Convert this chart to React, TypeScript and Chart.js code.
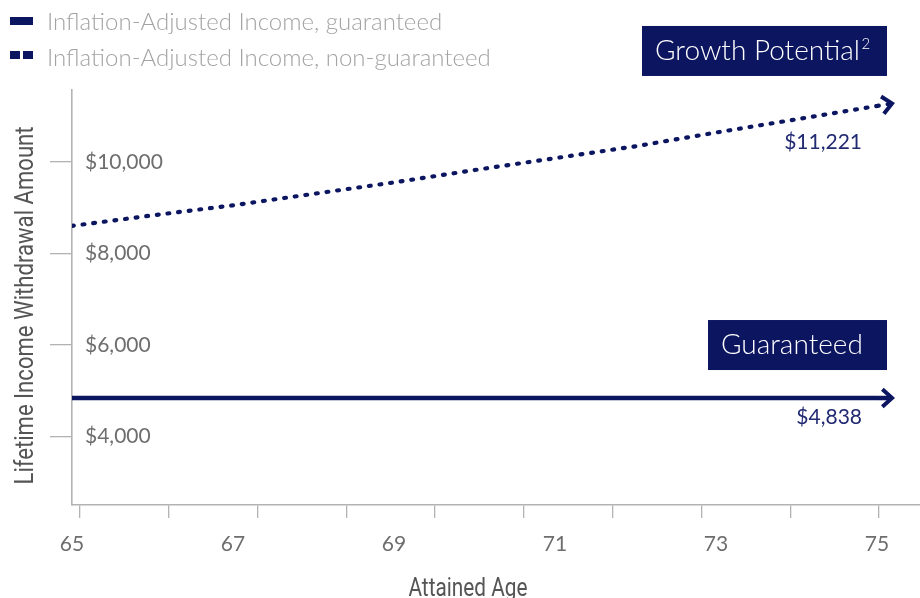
import React, { useEffect, useRef } from "react";
import { Chart, registerables } from "chart.js";

Chart.register(...registerables);

// ---------- data ----------
const ages = [65, 66, 67, 68, 69, 70, 71, 72, 73, 74, 75];
const guaranteedIncome = [4838, 4838, 4838, 4838, 4838, 4838, 4838, 4838, 4838, 4838, 4838];
const growthIncome = [8600, 8830, 9050, 9300, 9550, 9820, 10080, 10340, 10640, 10930, 11221];
const ageTickLabels = [65, 67, 69, 71, 73, 75];
const incomeTicks = [4000, 6000, 8000, 10000];
const axisTickMarks = [0, 1, 2, 3, 4, 5, 6, 7, 8, 9];
const legendLabels = [
  "Inflation-Adjusted Income, guaranteed",
  "Inflation-Adjusted Income, non-guaranteed",
];
const seriesTags = ["Guaranteed", "Growth Potential\u00B2"];
const yAxisTitle = "Lifetime Income Withdrawal Amount";
const xAxisTitle = "Attained Age";

// ---------- styles ----------
const NAVY = "#0c1560";
const AXIS_GREY = "#b3b3b3";
const LABEL_GREY = "#6e6e6e";
const TITLE_GREY = "#555555";
const LEGEND_GREY = "#a3a3a3";
const TITLE_FONT = "26px Roboto, 'Noto Sans', sans-serif";
const X_TITLE_SQUEEZE = 0.8;
const Y_TITLE_SQUEEZE = 0.85;

const fmtMoney = (v: number) => "$" + Math.round(v).toLocaleString("en-US");

const decorPlugin = {
  id: "lineDecor",
  afterDatasetsDraw(chart: any) {
    const ctx: CanvasRenderingContext2D = chart.ctx;
    chart.data.datasets.forEach((ds: any, i: number) => {
      const meta = chart.getDatasetMeta(i);
      const pts = meta.data;
      if (!pts || pts.length < 2) return;
      const last = pts[pts.length - 1];
      const prev = pts[pts.length - 2];
      const ang = Math.atan2(last.y - prev.y, last.x - prev.x);
      const ext = ds.arrowExtension;
      const tipX = last.x + ext;
      const tipY = last.y + ext * Math.tan(ang);

      ctx.save();
      ctx.strokeStyle = ds.borderColor;
      ctx.lineWidth = ds.borderWidth;
      ctx.lineCap = ds.borderCapStyle || "butt";
      ctx.setLineDash(ds.borderDash || []);
      ctx.beginPath();
      ctx.moveTo(last.x, last.y);
      ctx.lineTo(tipX - 3 * Math.cos(ang), tipY - 3 * Math.sin(ang));
      ctx.stroke();

      ctx.setLineDash([]);
      ctx.lineCap = "butt";
      ctx.lineJoin = "miter";
      ctx.lineWidth = 4;
      const arm = 13;
      const spread = (42 * Math.PI) / 180;
      ctx.beginPath();
      ctx.moveTo(tipX - arm * Math.cos(ang - spread), tipY - arm * Math.sin(ang - spread));
      ctx.lineTo(tipX, tipY);
      ctx.lineTo(tipX - arm * Math.cos(ang + spread), tipY - arm * Math.sin(ang + spread));
      ctx.stroke();

      const endValue = ds.data[ds.data.length - 1].y;
      ctx.font = "21px Lato";
      ctx.fillStyle = "#222a72";
      ctx.textAlign = "right";
      ctx.textBaseline = "middle";
      ctx.fillText(fmtMoney(endValue), last.x - 15, last.y + ds.valueLabelOffset);

      const w = ds.tagWidth;
      const h = 50;
      const right = last.x + 10;
      const bottom = last.y - ds.tagGap;
      ctx.fillStyle = NAVY;
      ctx.fillRect(right - w, bottom - h, w, h);
      ctx.fillStyle = "#ffffff";
      const tag: string = ds.tag;
      const hasSup = tag.endsWith("\u00B2");
      const main = hasSup ? tag.slice(0, -1) : tag;
      ctx.font = "300 28px Lato";
      ctx.textAlign = "left";
      ctx.textBaseline = "middle";
      const tx = right - w + 13;
      const cy = bottom - h / 2;
      ctx.fillText(main, tx, cy);
      if (hasSup) {
        const mw = ctx.measureText(main).width;
        ctx.font = "300 15px Lato";
        ctx.textBaseline = "alphabetic";
        ctx.fillText("2", tx + mw + 1.5, cy - 1.5);
      }
      ctx.restore();
    });
  },
};

// axis titles drawn in a condensed cut (horizontally squeezed text)
const condensedTitlePlugin = {
  id: "condensedTitles",
  afterDraw(chart: any) {
    const ctx: CanvasRenderingContext2D = chart.ctx;
    const area = chart.chartArea;
    const xs = chart.scales.x;
    const ys = chart.scales.y;
    ctx.save();
    ctx.font = TITLE_FONT;
    ctx.fillStyle = TITLE_GREY;
    ctx.textAlign = "center";
    ctx.textBaseline = "alphabetic";

    ctx.save();
    ctx.translate((area.left + area.right) / 2 - 28, xs.bottom - 2);
    ctx.scale(X_TITLE_SQUEEZE, 1);
    ctx.fillText(chart.options.scales.x.title.text, 0, 0);
    ctx.restore();

    ctx.save();
    ctx.translate(ys.left + 33, (area.top + area.bottom) / 2 + 8);
    ctx.rotate(-Math.PI / 2);
    ctx.scale(Y_TITLE_SQUEEZE, 1);
    ctx.fillText(chart.options.scales.y.title.text, 0, 0);
    ctx.restore();

    ctx.restore();
  },
};

export default function App() {
  const canvasRef = useRef<HTMLCanvasElement | null>(null);

  useEffect(() => {
    document.body.style.margin = "0";
    document.body.style.overflow = "hidden";
    const canvas = canvasRef.current;
    if (!canvas) return;
    Chart.defaults.font.family = "Lato";

    const chart = new Chart(canvas, {
      type: "line",
      data: {
        datasets: [
          {
            label: legendLabels[0],
            data: ages.map((a, i) => ({ x: a, y: guaranteedIncome[i] })),
            borderColor: NAVY,
            borderWidth: 4.5,
            pointRadius: 0,
            tension: 0,
            xAxisID: "x",
            yAxisID: "y",
            arrowExtension: 15,
            valueLabelOffset: 19,
            tag: seriesTags[0],
            tagWidth: 179,
            tagGap: 28,
          } as any,
          {
            label: legendLabels[1],
            data: ages.map((a, i) => ({ x: a, y: growthIncome[i] })),
            borderColor: NAVY,
            borderWidth: 4.2,
            borderDash: [1.8, 8.9],
            borderCapStyle: "round",
            pointRadius: 0,
            tension: 0,
            xAxisID: "x",
            yAxisID: "y",
            arrowExtension: 15,
            valueLabelOffset: 36,
            tag: seriesTags[1],
            tagWidth: 245,
            tagGap: 30,
          } as any,
        ],
      },
      options: {
        animation: false,
        responsive: true,
        maintainAspectRatio: false,
        layout: { padding: { top: 90, left: 0, right: 0, bottom: 0 } },
        plugins: { legend: { display: false }, tooltip: { enabled: false } },
        scales: {
          xt: {
            type: "linear",
            position: "bottom",
            weight: 0,
            min: -0.09,
            max: 9.462,
            afterBuildTicks: (axis: any) => {
              axis.ticks = axisTickMarks.map((v) => ({ value: v }));
            },
            afterFit: (axis: any) => {
              axis.height = 13;
            },
            ticks: { display: false },
            grid: {
              display: true,
              drawOnChartArea: false,
              drawTicks: true,
              tickLength: 13,
              color: AXIS_GREY,
              lineWidth: 1.3,
            },
            border: { display: true, color: AXIS_GREY, width: 1.6 },
          },
          x: {
            type: "linear",
            position: "bottom",
            weight: 1,
            min: 65,
            max: 75.534,
            afterBuildTicks: (axis: any) => {
              axis.ticks = ageTickLabels.map((v) => ({ value: v }));
            },
            afterFit: (axis: any) => {
              axis.height = 80;
            },
            ticks: {
              autoSkip: false,
              maxRotation: 0,
              padding: 14,
              color: LABEL_GREY,
              font: { family: "Lato", size: 21 },
              callback: (v: any) => String(v),
            },
            grid: { display: false, drawTicks: false },
            border: { display: false },
            title: { display: false, text: xAxisTitle },
          },
          y: {
            type: "linear",
            position: "left",
            min: 2500,
            max: 11570,
            afterBuildTicks: (axis: any) => {
              axis.ticks = incomeTicks.map((v) => ({ value: v }));
            },
            afterFit: (axis: any) => {
              axis.width = 72;
            },
            ticks: {
              mirror: true,
              padding: 13,
              color: LABEL_GREY,
              font: { family: "Lato", size: 21 },
              callback: (v: any) => fmtMoney(Number(v)),
            },
            grid: {
              display: true,
              drawOnChartArea: false,
              drawTicks: true,
              tickLength: 22,
              color: AXIS_GREY,
              lineWidth: 1.3,
            },
            border: { display: true, color: AXIS_GREY, width: 1.6 },
            title: { display: false, text: yAxisTitle },
          },
        },
      } as any,
      plugins: [decorPlugin, condensedTitlePlugin],
    });

    return () => {
      chart.destroy();
    };
  }, []);

  const legendText: React.CSSProperties = {
    position: "absolute",
    left: 47,
    fontFamily: "Lato",
    fontWeight: 300,
    fontSize: 24,
    color: LEGEND_GREY,
    lineHeight: "26px",
    whiteSpace: "nowrap",
  };

  return (
    <div style={{ position: "relative", width: 920, height: 598 }}>
      <canvas ref={canvasRef} />
      <div style={{ position: "absolute", left: 10, top: 17, width: 23, height: 8, background: NAVY }} />
      <div style={{ ...legendText, top: 8 }}>{legendLabels[0]}</div>
      <div style={{ position: "absolute", left: 10, top: 51, width: 10, height: 8, background: NAVY }} />
      <div style={{ position: "absolute", left: 23, top: 51, width: 10, height: 8, background: NAVY }} />
      <div style={{ ...legendText, top: 44 }}>{legendLabels[1]}</div>
    </div>
  );
}
